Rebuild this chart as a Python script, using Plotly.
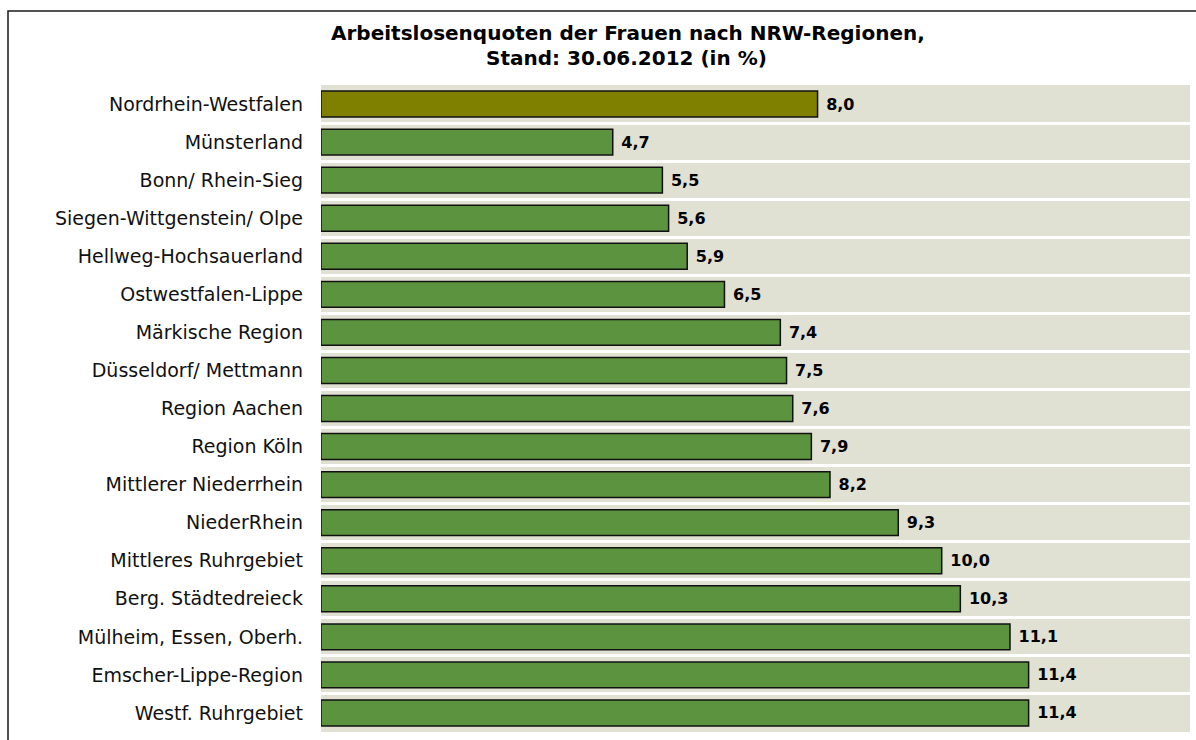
import plotly.graph_objects as go

regions = [
    "Nordrhein-Westfalen", "Münsterland", "Bonn/ Rhein-Sieg",
    "Siegen-Wittgenstein/ Olpe", "Hellweg-Hochsauerland", "Ostwestfalen-Lippe",
    "Märkische Region", "Düsseldorf/ Mettmann", "Region Aachen", "Region Köln",
    "Mittlerer Niederrhein", "NiederRhein", "Mittleres Ruhrgebiet",
    "Berg. Städtedreieck", "Mülheim, Essen, Oberh.", "Emscher-Lippe-Region",
    "Westf. Ruhrgebiet",
]
quotes = [8.0, 4.7, 5.5, 5.6, 5.9, 6.5, 7.4, 7.5, 7.6, 7.9, 8.2, 9.3, 10.0, 10.3, 11.1, 11.4, 11.4]
title_lines = ["Arbeitslosenquoten der Frauen nach NRW-Regionen,", "Stand: 30.06.2012 (in %)"]

W, H = 1196, 740
L, R, T, B = 321, 6, 85, 8
pw, ph = W - L - R, H - T - B

def px_x(x):
    return (x - L) / pw

def px_y(y):
    return (H - B - y) / ph

colors = ["#808000" if r == "Nordrhein-Westfalen" else "#5C933F" for r in regions]
labels = [" " + f"{v:.1f}".replace(".", ",") for v in quotes]

fig = go.Figure(go.Bar(
    x=quotes, y=regions, orientation="h",
    marker=dict(color=colors, line=dict(color="#111111", width=1.5)),
    text=labels, textposition="outside", constraintext="none", cliponaxis=False,
    textfont=dict(family="DejaVu Sans", size=16, color="#000000", weight="bold"),
    hoverinfo="skip",
))

fig.update_layout(
    width=W, height=H,
    margin=dict(l=L, r=R, t=T, b=B),
    paper_bgcolor="#FFFFFF", plot_bgcolor="#E0E0D3",
    bargap=0.32, showlegend=False,
    xaxis=dict(range=[0, 14], visible=False, showgrid=False, zeroline=False, fixedrange=True),
    yaxis=dict(type="category", autorange="reversed", tickson="boundaries",
               showgrid=True, gridcolor="#FFFFFF", gridwidth=3, ticks="",
               ticklabelstandoff=17, showline=False, zeroline=False, fixedrange=True,
               tickfont=dict(family="DejaVu Sans", size=19, color="#111111")),
)

fig.add_annotation(text=title_lines[0], xref="paper", yref="paper",
                   x=px_x(628), y=px_y(33), xanchor="center", yanchor="middle",
                   showarrow=False, font=dict(family="DejaVu Sans", size=20, color="#000000", weight="bold"))
fig.add_annotation(text=title_lines[1], xref="paper", yref="paper",
                   x=px_x(626), y=px_y(58.5), xanchor="center", yanchor="middle",
                   showarrow=False, font=dict(family="DejaVu Sans", size=20, color="#000000", weight="bold"))

fig.add_shape(type="rect", xref="paper", yref="paper",
              x0=px_x(8), x1=px_x(1210), y0=px_y(750), y1=px_y(11),
              line=dict(color="#1A1A1A", width=1.5), fillcolor="rgba(0,0,0,0)", layer="above")

fig.write_html("out.html", config={"displayModeBar": False},
               post_script="document.body.style.margin='0';document.body.style.overflow='hidden';")
